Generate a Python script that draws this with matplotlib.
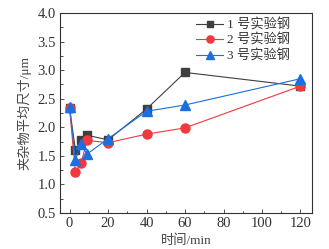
import matplotlib
matplotlib.use("Agg")
import matplotlib.pyplot as plt
from matplotlib.ticker import MultipleLocator

plt.rcParams['font.family'] = ['Liberation Serif', 'Noto Sans CJK SC']
plt.rcParams['mathtext.fontset'] = 'stix'

time = [0, 3, 6, 9, 20, 40, 60, 120]
steel1 = [2.33, 1.60, 1.77, 1.86, 1.78, 2.32, 2.96, 2.72]
steel2 = [2.33, 1.21, 1.37, 1.77, 1.73, 1.88, 1.99, 2.72]
steel3 = [2.35, 1.43, 1.70, 1.53, 1.80, 2.28, 2.39, 2.85]
labels = ['1 号实验钢', '2 号实验钢', '3 号实验钢']

fig = plt.figure(figsize=(3.29, 2.49), dpi=100)
ax = fig.add_axes([60/329, 1-213/249, 252/329, 200/249])

ax.plot(time, steel1, '-s', color='#3f3f3f', lw=0.8, ms=6, label=labels[0])
ax.plot(time, steel2, '-o', color='#f0393f', lw=0.8, ms=6.5, label=labels[1])
ax.plot(time, steel3, '-^', color='#1b6fe0', lw=0.8, ms=6.5, label=labels[2])

ax.set_xlim(-5, 126)
ax.set_ylim(0.5, 4.0)
ax.xaxis.set_major_locator(MultipleLocator(20))
ax.xaxis.set_minor_locator(MultipleLocator(10))
ax.yaxis.set_major_locator(MultipleLocator(0.5))
ax.yaxis.set_minor_locator(MultipleLocator(0.25))
ax.set_yticklabels([f'{v:.1f}' for v in ax.get_yticks()])
ax.tick_params(direction='in', labelsize=10.5, length=3, width=0.6, colors='#333333', labelcolor='#333333', pad=3)
ax.tick_params(which='minor', direction='in', length=1.8, width=0.5)
for s in ax.spines.values():
    s.set_linewidth(0.8)
    s.set_color('#333333')

ax.set_xlabel('时间/min', fontsize=9.5, color='#444444', labelpad=3)
ax.set_ylabel('夹杂物平均尺寸/μm', fontsize=9.5, color='#444444', labelpad=4)

leg = ax.legend(loc='upper left', bbox_to_anchor=(0.52, 1.0), frameon=False, fontsize=9.5, handlelength=2.0,
                borderaxespad=0.0, labelspacing=0.2, handletextpad=0.3, markerscale=0.8)
for t in leg.get_texts():
    t.set_color('#333333')

fig.savefig('out.png', dpi=100)
